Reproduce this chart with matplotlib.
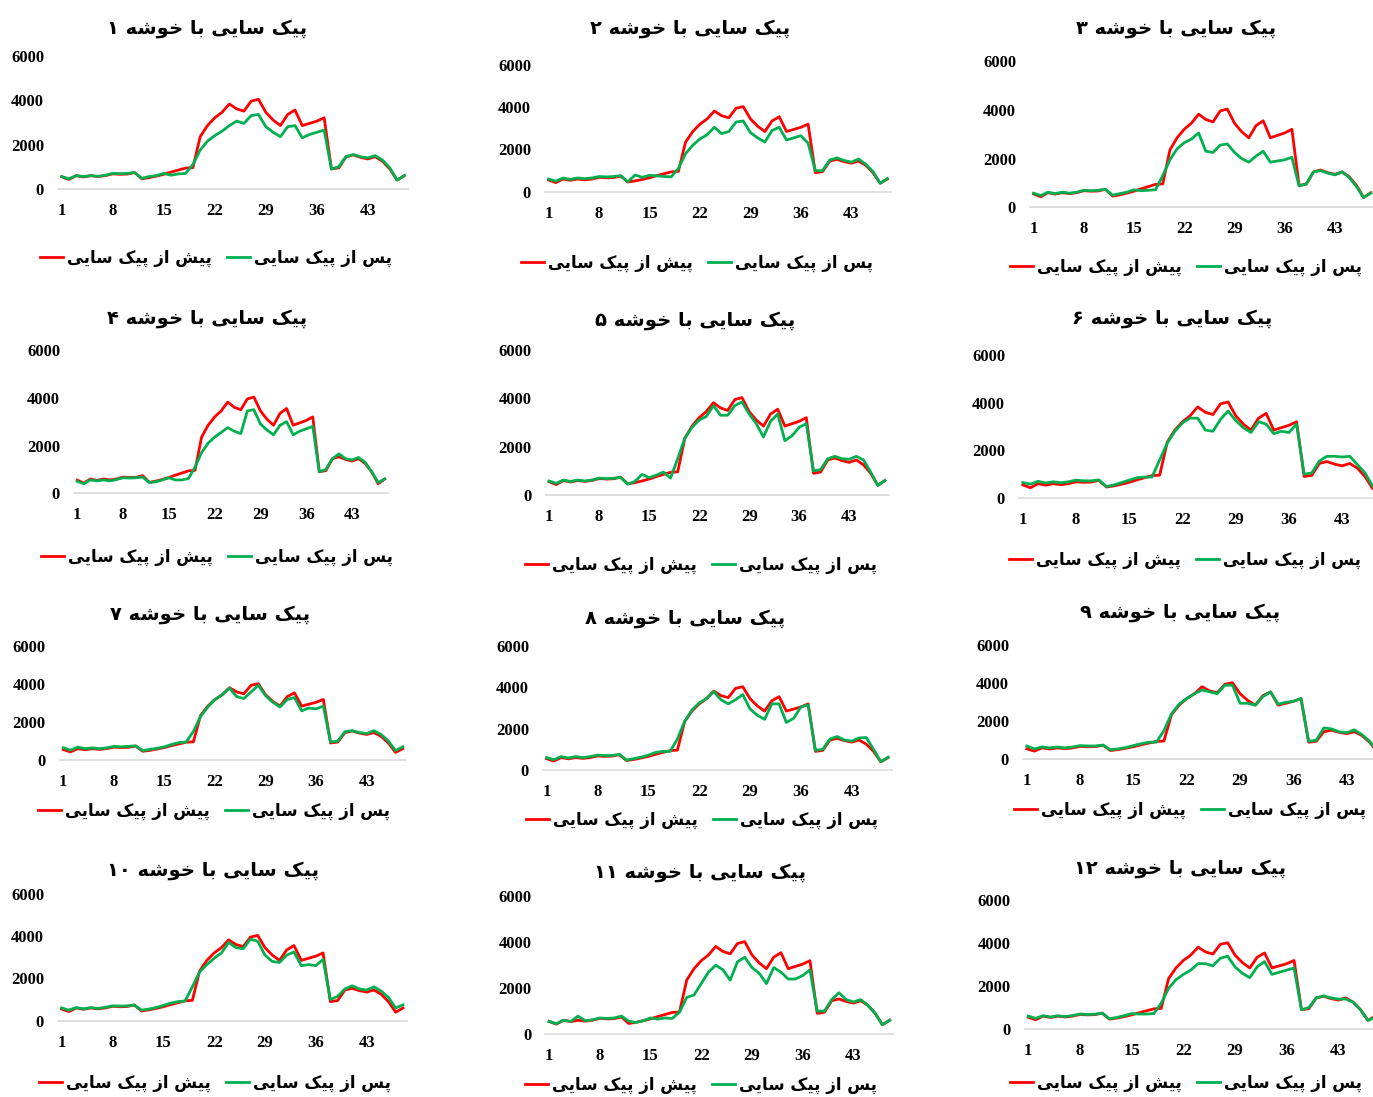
import matplotlib
matplotlib.use('Agg')
import matplotlib.pyplot as plt

W, H = 1373, 1097

x_days = list(range(1, 49))
x_ticks = [1, 8, 15, 22, 29, 36, 43]
y_ticks = [0, 2000, 4000, 6000]

label_before = 'پیش از پیک سایی'
label_after = 'پس از پیک سایی'
title_text = 'پیک سایی با خوشه'

before = [550, 430, 600, 540, 600, 560, 600, 680, 660, 670, 740, 460,
          510, 580, 660, 760, 850, 940, 960, 2350, 2850, 3200, 3450, 3820,
          3600, 3500, 3950, 4030, 3450, 3100, 2850, 3350, 3550, 2850, 2950, 3050,
          3200, 900, 950, 1450, 1530, 1420, 1350, 1450, 1250, 900, 400, 600]

after_1 = [560, 460, 600, 560, 600, 570, 620, 700, 690, 700, 740, 480,
           560, 600, 700, 620, 680, 700, 1100, 1750, 2150, 2400, 2600, 2850,
           3050, 2950, 3300, 3350, 2800, 2550, 2350, 2800, 2850, 2300, 2450, 2550,
           2650, 900, 1000, 1450, 1550, 1450, 1400, 1500, 1300, 950, 400, 600]
after_2 = [600, 500, 650, 580, 650, 620, 650, 720, 700, 720, 760, 470,
           790, 680, 780, 750, 720, 700, 1100, 1800, 2200, 2500, 2700, 3050,
           2750, 2850, 3300, 3350, 2800, 2550, 2350, 2900, 3050, 2450, 2550, 2650,
           2300, 1000, 1000, 1500, 1600, 1480, 1400, 1550, 1300, 950, 400, 620]
after_3 = [580, 480, 620, 560, 620, 580, 620, 700, 680, 700, 740, 500,
           560, 620, 720, 680, 700, 720, 1300, 1950, 2400, 2650, 2800, 3050,
           2300, 2250, 2550, 2600, 2250, 2000, 1850, 2100, 2300, 1850, 1900, 1950,
           2050, 880, 950, 1450, 1500, 1400, 1330, 1450, 1220, 850, 400, 580]
after_4 = [500, 400, 560, 520, 560, 520, 580, 650, 640, 650, 680, 450,
           480, 560, 650, 560, 560, 620, 1100, 1700, 2100, 2350, 2550, 2750,
           2600, 2500, 3450, 3500, 2900, 2650, 2450, 2850, 3000, 2450, 2600, 2700,
           2800, 900, 1000, 1450, 1650, 1450, 1400, 1500, 1300, 900, 450, 600]
after_5 = [580, 480, 620, 560, 620, 580, 620, 700, 680, 690, 730, 450,
           560, 850, 720, 820, 950, 700, 1500, 2350, 2800, 3100, 3250, 3700,
           3300, 3300, 3700, 3850, 3350, 2950, 2400, 3050, 3350, 2250, 2450, 2800,
           2950, 1000, 1050, 1500, 1600, 1500, 1480, 1600, 1450, 950, 400, 600]
after_6 = [650, 580, 700, 630, 680, 640, 680, 750, 720, 720, 760, 480,
           550, 650, 750, 850, 880, 880, 1600, 2300, 2800, 3150, 3350, 3350,
           2850, 2800, 3300, 3650, 3250, 2950, 2750, 3200, 3100, 2700, 2800, 2750,
           3100, 1000, 1050, 1550, 1750, 1750, 1720, 1750, 1400, 1050, 500, 450]
after_7 = [650, 520, 680, 600, 640, 600, 640, 720, 700, 720, 750, 500,
           560, 620, 700, 820, 920, 950, 1500, 2300, 2800, 3200, 3450, 3800,
           3350, 3250, 3600, 3950, 3400, 3050, 2800, 3200, 3300, 2600, 2750, 2700,
           2850, 950, 1000, 1500, 1550, 1450, 1400, 1550, 1350, 1000, 500, 700]
after_8 = [600, 500, 650, 580, 650, 600, 650, 720, 700, 700, 760, 480,
           550, 620, 720, 850, 900, 900, 1500, 2350, 2900, 3250, 3450, 3800,
           3400, 3200, 3400, 3650, 2950, 2650, 2450, 3200, 3200, 2300, 2500, 3050,
           3150, 950, 1000, 1500, 1620, 1450, 1400, 1550, 1570, 1000, 400, 620]
after_9 = [700, 550, 650, 600, 650, 600, 650, 720, 700, 700, 750, 500,
           550, 620, 720, 820, 900, 900, 1500, 2400, 2900, 3200, 3450, 3650,
           3550, 3450, 3900, 3900, 2950, 2950, 2850, 3300, 3550, 2900, 3000, 3050,
           3200, 950, 1000, 1650, 1600, 1450, 1400, 1550, 1300, 950, 450, 600]
after_10 = [600, 500, 620, 560, 620, 580, 630, 700, 690, 700, 740, 500,
            550, 620, 720, 830, 900, 930, 1600, 2300, 2650, 2950, 3200, 3700,
            3450, 3400, 3850, 3750, 3100, 2800, 2750, 3100, 3250, 2600, 2650, 2600,
            2900, 1000, 1150, 1500, 1650, 1500, 1450, 1600, 1400, 1100, 600, 750]
after_11 = [550, 450, 600, 550, 780, 580, 620, 700, 680, 700, 780, 560,
            500, 580, 700, 650, 700, 680, 950, 1600, 1700, 2200, 2700, 3000,
            2800, 2350, 3150, 3350, 2900, 2650, 2200, 2900, 2700, 2400, 2400, 2550,
            2800, 1000, 1000, 1500, 1800, 1500, 1400, 1500, 1250, 900, 400, 600]
after_12 = [600, 500, 620, 560, 620, 580, 630, 700, 680, 690, 740, 480,
            540, 620, 720, 700, 700, 720, 1200, 1900, 2300, 2550, 2750, 3050,
            3050, 2950, 3300, 3400, 2900, 2600, 2400, 2900, 3150, 2550, 2650, 2750,
            2850, 900, 1000, 1450, 1550, 1450, 1400, 1400, 1250, 900, 400, 550]

after = [after_1, after_2, after_3, after_4, after_5, after_6,
         after_7, after_8, after_9, after_10, after_11, after_12]

# panel boxes in pixels: left, right, top (6000), bottom (0)
boxes = [(58, 408, 55.5, 189), (545, 891, 65, 191.7), (1030, 1374.4, 61, 207.3),
         (74, 388, 350, 493.3), (545.5, 888.5, 350, 495), (1019, 1384, 355, 498),
         (59.7, 406.4, 646.5, 760), (543, 891.7, 646, 770), (1023, 1388.6, 645.3, 759.3),
         (58, 406.6, 893.7, 1020.7), (545.4, 893.3, 896.5, 1034), (1024.6, 1379, 900.5, 1029)]
title_pos = [(207, 28), (690, 29), (1176, 29), (207, 318), (695, 320), (1172, 319),
             (210, 614), (685, 618), (1180, 613), (213, 870), (700, 872), (1180, 869)]
legend_pos = [(216, 258), (697, 263), (1186, 267), (217, 557), (701, 565), (1185, 560),
              (214, 811), (702, 820), (1190, 810), (215, 1083), (701, 1085), (1186, 1083)]

# presentation forms: isolated, final, initial, medial
FORMS = {
    'پ': (0xFB56, 0xFB57, 0xFB58, 0xFB59),
    'ی': (0xFBFC, 0xFBFD, 0xFBFE, 0xFBFF),
    'ک': (0xFB8E, 0xFB8F, 0xFB90, 0xFB91),
    'س': (0xFEB1, 0xFEB2, 0xFEB3, 0xFEB4),
    'ش': (0xFEB5, 0xFEB6, 0xFEB7, 0xFEB8),
    'ب': (0xFE8F, 0xFE90, 0xFE91, 0xFE92),
    'خ': (0xFEA5, 0xFEA6, 0xFEA7, 0xFEA8),
    'ه': (0xFEE9, 0xFEEA, 0xFEEB, 0xFEEC),
    'ا': (0xFE8D, 0xFE8E),
    'و': (0xFEED, 0xFEEE),
    'ز': (0xFEAF, 0xFEB0),
}
FA_DIGITS = '۰۱۲۳۴۵۶۷۸۹'


def shape(text):
    out = []
    for w in reversed(text.split(' ')):
        if all(c in FA_DIGITS for c in w):
            out.append(w)
            continue
        chars = []
        for i, c in enumerate(w):
            f = FORMS.get(c)
            if f is None:
                chars.append(c)
                continue
            prev_j = i > 0 and w[i-1] in FORMS and len(FORMS[w[i-1]]) == 4
            next_j = len(f) == 4 and i < len(w) - 1 and w[i+1] in FORMS
            if prev_j and next_j:
                g = f[3]
            elif prev_j:
                g = f[1]
            elif next_j:
                g = f[2]
            else:
                g = f[0]
            chars.append(chr(g))
        out.append(''.join(reversed(chars)))
    return ' '.join(out)


def fa_num(n):
    return ''.join(FA_DIGITS[int(d)] for d in str(n))


fig = plt.figure(figsize=(W / 100, H / 100), dpi=100)
fa_font = dict(family='DejaVu Sans', weight='bold')
num_font = dict(family='Liberation Serif', weight='bold', size=12)

for k in range(12):
    l, r, t, b = boxes[k]
    ax = fig.add_axes([l / W, 1 - b / H, (r - l) / W, (b - t) / H])
    ax.plot(x_days, before, color='#FF0000', lw=2.0, label=shape(label_before))
    ax.plot(x_days, after[k], color='#00B050', lw=2.0, label=shape(label_after))
    ax.set_xlim(0.5, 48.5)
    ax.set_ylim(0, 6000)
    ax.set_xticks(x_ticks)
    ax.set_yticks(y_ticks)
    ax.set_xticklabels([str(v) for v in x_ticks], fontdict=num_font)
    ax.set_yticklabels([str(v) for v in y_ticks], fontdict=num_font)
    ax.tick_params(length=0, pad=10)
    for s in ['top', 'right', 'left']:
        ax.spines[s].set_visible(False)
    ax.spines['bottom'].set_color('#D9D9D9')
    ax.spines['bottom'].set_linewidth(1.2)
    ax.patch.set_alpha(0)

    tx, ty = title_pos[k]
    fig.text(tx / W, 1 - ty / H, shape(title_text + ' ' + fa_num(k + 1)),
             ha='center', va='center', fontsize=14, **fa_font)

    lx, ly = legend_pos[k]
    ax.legend(loc='center', bbox_to_anchor=(lx / W, 1 - ly / H),
              bbox_transform=fig.transFigure, ncol=2, frameon=False,
              handlelength=1.4, handletextpad=0.25, columnspacing=0.9,
              prop=dict(size=12, **fa_font))

fig.savefig('out.png', dpi=100)
